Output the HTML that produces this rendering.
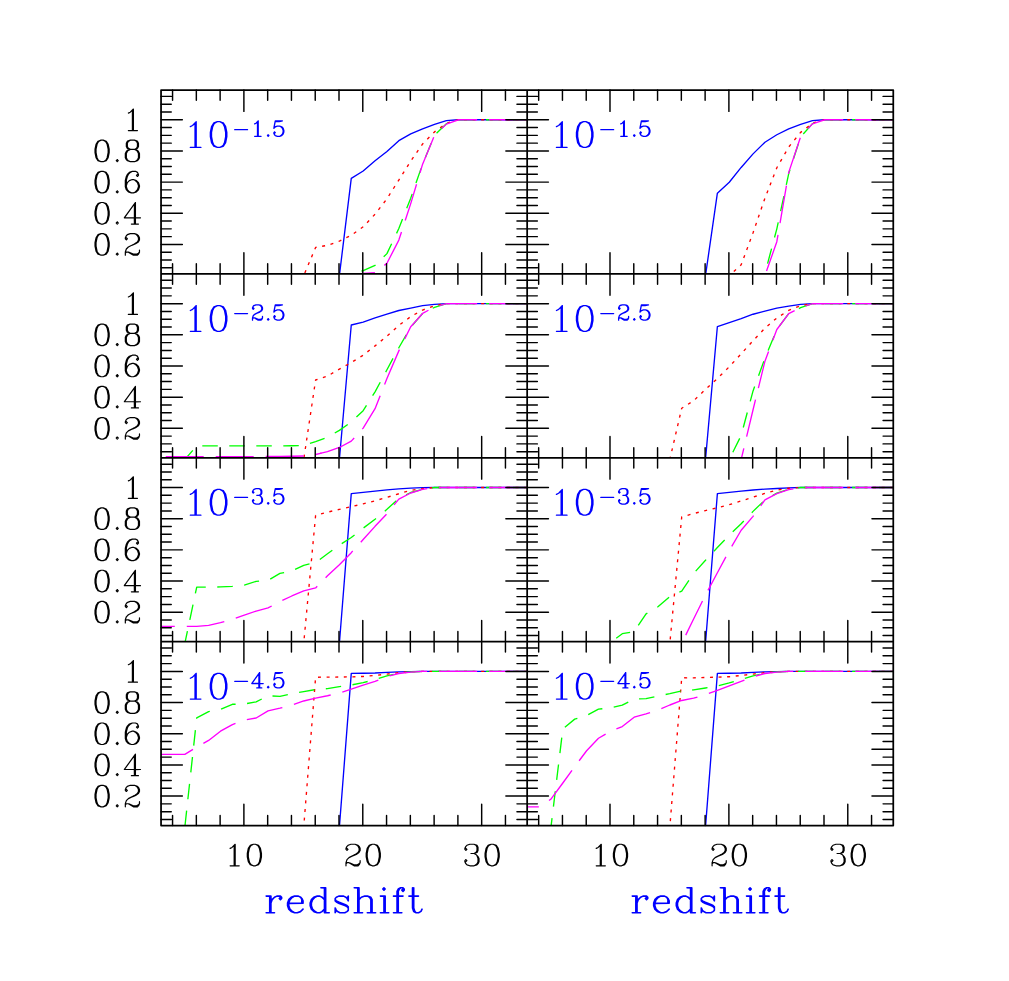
<!DOCTYPE html>
<html><head><meta charset="utf-8"><title>chart</title>
<style>html,body{margin:0;padding:0;background:#fff;font-family:"Liberation Sans",sans-serif}svg{display:block}</style>
</head><body>
<svg width="1009" height="981" viewBox="0 0 1009 981">
<rect width="1009" height="981" fill="#fff"/>
<defs>
<clipPath id="c00"><rect x="161.05" y="90.08" width="366.11" height="183.88"/></clipPath>
<clipPath id="c01"><rect x="161.05" y="273.96" width="366.11" height="183.88"/></clipPath>
<clipPath id="c02"><rect x="161.05" y="457.84" width="366.11" height="183.88"/></clipPath>
<clipPath id="c03"><rect x="161.05" y="641.72" width="366.11" height="183.88"/></clipPath>
<clipPath id="c10"><rect x="527.16" y="90.08" width="366.11" height="183.88"/></clipPath>
<clipPath id="c11"><rect x="527.16" y="273.96" width="366.11" height="183.88"/></clipPath>
<clipPath id="c12"><rect x="527.16" y="457.84" width="366.11" height="183.88"/></clipPath>
<clipPath id="c13"><rect x="527.16" y="641.72" width="366.11" height="183.88"/></clipPath>
<path id="g0" d="M8.2 -0.3L8.4 -0.3ZM11.9 -0.4L12.1 -0.4ZM7.9 -0.4L8.2 -0.4ZM12.1 -0.5L12.4 -0.5ZM12.4 -20.5L14 -20L15.9 -17.2L17 -12.2L17 -8.8L16 -4L14.1 -1.1L12.6 -0.5L12.3 -0.6L12.9 -0.9L14.1 -2.1L15 -3.9L16 -8.8L16 -12.2L15 -17L14 -19L12.9 -20.1L12.4 -20.3ZM12.1 -20.5L12.4 -20.5ZM7.9 -20.6L7.9 -20.4L7 -20L6 -19L4.9 -16.7L4 -12.2L4 -8.8L5 -3.9L5.9 -2.1L7 -1L7.9 -0.6L7.9 -0.4L6 -1L4.1 -3.8L3 -8.8L3 -12.2L4 -17L6 -20ZM11.9 -20.6L12.1 -20.6ZM7.9 -20.6L8.2 -20.6ZM8.2 -20.7L8.4 -20.7ZM9 -21L11.1 -21L12.9 -20.1L14 -19L15.1 -16.7L16 -12.2L16 -8.8L15 -3.9L14.1 -2.1L12.9 -0.9L11.1 0L9 0L7 -1L5.9 -2.1L5 -3.9L4 -8.8L4 -12.2L5 -17L6 -19L7 -20ZM8.9 -21L6 -20L4 -17L3 -12.2L3 -8.8L4 -4L5.9 -1.1L8.9 0L11.1 0L14 -1L16 -4L17 -8.8L17 -12.2L16 -17L14.1 -19.9L11.1 -21Z" vector-effect="non-scaling-stroke"/>
<path id="g1" d="M10.9 -20.9L11 -0.1L10.1 0L10 -20ZM11 -21L7.9 -17.9L6 -17L7.9 -17.9L9.9 -19.9L10 -19.8L10 -0.1L6 0L15 0L11 -0.1Z" vector-effect="non-scaling-stroke"/>
<path id="g2" d="M16.8 -2.6L16.1 -1.1L15 0L11 0L6.9 -2.5L7.1 -2.6L10.9 -1L14.1 -1L15.9 -1.9L16.7 -2.7ZM6.7 -2.6L6.9 -2.6ZM16.7 -2.7L16.9 -2.7ZM6.5 -2.7L6.7 -2.7ZM9.5 -9.7L9.7 -9.7ZM9.7 -9.8L9.9 -9.8ZM9.9 -9.9L10.2 -9.9ZM10.1 -10L10.4 -10ZM14.8 -20.1L16 -19L17 -17L17 -14.9L15.9 -12.9L13.2 -11.1L10.4 -10L10.4 -10.2L11.9 -10.9L14.9 -12.9L16 -14.9L16 -17L15 -19L13.9 -20.1L13.3 -20.4L13.6 -20.5ZM13.1 -20.5L13.4 -20.5ZM12.9 -20.6L13.1 -20.6ZM5.2 -20.1L4 -19L3 -17L3 -16L4 -15L5 -16L4 -17L5 -16L4 -15L3 -16L3 -17L4 -19L5 -20L7.9 -21L12.1 -21L13.9 -20.1L15 -19L16 -17L16 -14.9L14.9 -12.9L11.9 -10.9L6 -8L4 -6L3 -3.1L3 0L3 -2L4 -3L6 -3L11 0L15 0L16.1 -1.1L17 -2.9L17 -5L17 -3L15.9 -1.9L14.1 -1L10.9 -1L6.1 -3L4 -3L3.1 -2.1L3 -2.2L3 -3.1L4 -6L6 -8L8.4 -9.2L13.2 -11.1L15.9 -12.9L17 -14.9L17 -17L16 -19L14.8 -20.1L12.1 -21L7.9 -21Z" vector-effect="non-scaling-stroke"/>
<path id="g3" d="M12.9 -0.4L13.1 -0.4ZM13.1 -0.5L13.4 -0.5ZM15.2 -9.8L16 -9L17 -7L17 -3.9L16.1 -2.1L15 -1L13.4 -0.5L13.4 -0.7L13.9 -0.9L15.1 -2.1L16 -3.9L16 -7.1L15.1 -9.6ZM12.9 -12.4L13.1 -12.4ZM13.1 -12.5L13.4 -12.5ZM13.4 -20.5L14.8 -20.1L16 -18L16 -14.9L15.1 -13.1L13.6 -12.5L13.3 -12.6L14.1 -13.1L15 -14.9L15 -18L14 -20L13.4 -20.3ZM13.1 -20.5L13.4 -20.5ZM12.9 -20.6L13.1 -20.6ZM7.9 -21L5 -20L4 -19L3 -17L3 -16L4 -15L5 -16L4 -17L5 -16L4 -15L3 -16L3 -17L4 -19L5 -20L7.9 -21L12.1 -21L14 -20L15 -18L15 -14.9L14.1 -13.1L12.1 -12L9 -12L12.1 -12L13.9 -11.1L15 -10L16 -7.1L16 -3.9L15.1 -2.1L13.9 -0.9L12.1 0L7.9 0L5.2 -0.9L3.9 -2.1L3 -3.9L3 -5L4 -6L5 -5L4 -4L5 -5L4 -6L3 -5L3 -3.9L3.9 -2.1L5 -1L7.9 0L12.1 0L14.8 -0.9L16.1 -2.1L17 -3.9L17 -7L16 -9L13.9 -11.1L12.1 -12L15 -13L16 -14.9L16 -18L15 -20L12.1 -21Z" vector-effect="non-scaling-stroke"/>
<path id="g4" d="M12.1 -6L13 -5.9L12.9 0L12 -0.1ZM12.9 -20.8L13 -6.1L12 -6.1L12 -19L12 -6.1L2.2 -6L2.1 -6.2ZM13 -21L2 -6L11.9 -6L12 -0.1L9 0L16 0L13 -0.1L13 -5.9L18 -6L13 -6.1Z" vector-effect="non-scaling-stroke"/>
<path id="g5" d="M11.9 -0.4L12.1 -0.4ZM12.1 -0.5L12.4 -0.5ZM3 -11.2L3.2 -11.2ZM12.4 -13.5L14 -13L16 -11L17 -8.1L17 -5.9L16 -3L14 -1L12.6 -0.5L12.3 -0.6L12.9 -0.9L15.1 -3.2L16 -5.9L16 -8.1L15 -11L12.9 -13.1L12.4 -13.3ZM12.1 -13.5L12.4 -13.5ZM11.9 -13.6L12.1 -13.6ZM5 -21L3 -11L5.2 -13.1L7.9 -14L11.1 -14L12.9 -13.1L15 -11L16 -8.1L16 -5.9L15 -3L12.9 -0.9L11.1 0L7.9 0L5.2 -0.9L3.9 -2.1L3 -3.9L3 -5L4 -6L5 -5L4 -4L5 -5L4 -6L3 -5L3 -3.9L3.9 -2.1L5 -1L7.9 0L11.1 0L13.8 -0.9L16 -3L17 -5.9L17 -8.1L16 -11L14 -13L11.1 -14L7.9 -14L5 -13L3.2 -11.2L3.1 -11.7L4.9 -20.7L5.1 -21L14.2 -21L14.2 -20.8L10.2 -20L5 -20L10.2 -20L15 -21Z" vector-effect="non-scaling-stroke"/>
<path id="g6" d="M8.2 -0.3L8.4 -0.3ZM11.9 -0.4L12.1 -0.4ZM7.9 -0.4L8.2 -0.4ZM12.1 -0.5L12.4 -0.5ZM12.4 -12.5L14 -12L16 -10L17 -7.1L17 -5.9L16 -3L14 -1L12.6 -0.5L12.3 -0.6L12.9 -0.9L15 -3L16 -5.9L16 -7.1L15 -10L12.9 -12.1L12.4 -12.3ZM12.1 -12.5L12.4 -12.5ZM11.9 -12.6L12.1 -12.6ZM9.9 -13L11.1 -13L12.9 -12.1L15 -10L16 -7.1L16 -5.9L15 -3L12.9 -0.9L11.1 0L9 0L7 -1L5 -3L4 -5.9L4 -7.1L5 -10L7 -12ZM8.9 -20.6L8.9 -20.4L8 -20L6 -18L5 -16L4 -12.1L4 -5.9L5 -3L7 -1L8 -0.5L7.7 -0.4L6 -1L3.9 -3.2L3 -5.9L3 -12.1L4 -16L5 -18L7 -20ZM8.9 -20.6L9.2 -20.6ZM9.2 -20.7L9.4 -20.7ZM13.1 -21L15 -20L16 -18L16 -17L15 -16L14 -17L15 -18L14 -17L15 -16L16 -17L16 -18L14.9 -20.1L13.1 -21L9.9 -21L7 -20L5 -18L4 -16L3 -12.1L3 -5.9L3.9 -3.2L6 -1L8.9 0L11.1 0L13.8 -0.9L16 -3L17 -5.9L17 -7.1L16.1 -9.8L14 -12L11.1 -13L9.9 -13L7 -12L5 -10L4.1 -7.4L4 -12.1L5 -16L6 -18L8 -20L10 -21Z" vector-effect="non-scaling-stroke"/>
<path id="g7" d="M14.9 -13.9L15.1 -13.9ZM15 -14L15.2 -14ZM15.1 -14.1L15.3 -14.1ZM15.2 -14.2L15.4 -14.2ZM12.3 -18.3L12.5 -18.3ZM12.1 -18.4L12.3 -18.4ZM4.2 -19.2L4.4 -19.2ZM4.3 -19.3L6 -21L8 -21L12.1 -18.5L11.9 -18.4L8.1 -20L6 -20L4.5 -19.2ZM17 -21L16.1 -19.1L15 -18L13 -18L8 -21L6 -21L4 -19L3.1 -17.2L3 -21L3 -15L3 -17L3.9 -18.8L6 -20L8.1 -20L12.9 -18L15 -18L16.1 -19.1L16.8 -20.6L17 -20.6L17 -17.9L16 -15L11 -10L9.9 -7.8L9 -5.1L9 0L9 -5.1L9.9 -7.8L11 -10L14.9 -13.9L15 -13.8L12.2 -10.3L10.9 -7.8L10 -5.1L10 0L10 -5.1L10.9 -7.8L12 -10L16.1 -15.2L17 -17.9Z" vector-effect="non-scaling-stroke"/>
<path id="g8" d="M7.2 -0.3L7.4 -0.3ZM12.9 -0.4L13.1 -0.4ZM6.9 -0.4L7.2 -0.4ZM13.1 -0.5L13.4 -0.5ZM13.4 -11.5L15 -11L16 -10L17 -8L17 -3.9L16.1 -2.1L15 -1L13.6 -0.5L13.3 -0.6L13.9 -0.9L15.1 -2.1L16 -3.9L16 -8L15 -10L13.9 -11.1L13.4 -11.3ZM13.1 -11.5L13.4 -11.5ZM6.9 -11.6L6.9 -11.4L6 -11L5 -10L4 -8L4 -3.9L4.9 -2.1L6 -1L6.9 -0.6L6.9 -0.4L5 -1L3.9 -2.1L3 -3.9L3 -8L4 -10L5 -11ZM12.9 -11.6L13.1 -11.6ZM6.9 -11.6L7.2 -11.6ZM7.2 -11.7L7.4 -11.7ZM8 -12L12.1 -12L13.9 -11.1L15 -10L16 -8L16 -3.9L15.1 -2.1L13.9 -0.9L12.1 0L8 0L6 -1L4.9 -2.1L4 -3.9L4 -8L5 -10L6 -11ZM7.2 -12.3L7.4 -12.3ZM12.9 -12.4L13.1 -12.4ZM6.9 -12.4L7.2 -12.4ZM13.1 -12.5L13.4 -12.5ZM13.4 -20.5L14.8 -20.1L16 -18L16 -14.9L15.1 -13.1L13.6 -12.5L13.3 -12.6L14.1 -13.1L15 -14.9L15 -18L14 -20L13.4 -20.3ZM13.1 -20.5L13.4 -20.5ZM6.7 -20.6L7 -20.5L6 -20L5 -18L5 -14.9L5.9 -13.1L6.9 -12.6L6.9 -12.4L5 -13L4 -14.9L4 -18L5.2 -20.1ZM12.9 -20.6L13.1 -20.6ZM6.9 -20.6L7.2 -20.6ZM7.2 -20.7L7.4 -20.7ZM5.9 -19.8L8 -21L12.1 -21L13.9 -20.1L15 -18L15 -14.9L14.1 -13.1L12.1 -12L8 -12L6 -13L5 -14.9L5 -18ZM7.9 -21L5 -20L4 -18L4 -14.9L4.9 -13.1L7.9 -12L5 -11L4 -10L3 -8L3 -3.9L3.9 -2.1L5.2 -0.9L7.9 0L12.1 0L15 -1L16.1 -2.1L17 -3.9L17 -8L16 -10L15 -11L12.1 -12L15.1 -13.1L16 -14.9L16 -18L15 -20L12.1 -21Z" vector-effect="non-scaling-stroke"/>
<path id="g9" d="M10.9 -0.4L11.1 -0.4ZM11.1 -0.5L11.4 -0.5ZM8.2 -8.3L8.4 -8.3ZM7.9 -8.4L8.2 -8.4ZM12.6 -20.5L14 -20L16.1 -17.8L17 -15.1L17 -8.8L16.1 -5.2L15.1 -3.1L13 -1L11.4 -0.5L11.4 -0.7L11.9 -0.9L14.1 -3.1L15 -4.9L16 -8.8L16 -15.1L15 -18L12.9 -20.1L12.3 -20.4ZM12.1 -20.5L12.4 -20.5ZM7.9 -20.6L7.9 -20.4L7 -20L5 -18L4 -15.1L4 -13.9L5 -11L7 -9L7.9 -8.6L7.9 -8.4L6 -9L4 -11L3 -13.9L3 -15.1L4 -18L6 -20ZM11.9 -20.6L12.1 -20.6ZM7.9 -20.6L8.2 -20.6ZM8.2 -20.7L8.4 -20.7ZM9 -21L11.1 -21L12.9 -20.1L15 -18L16 -15.1L16 -13.9L15 -11L13 -9L10.1 -8L9 -8L7 -9L5 -11L4 -13.9L4 -15.1L5 -18L7 -20ZM11.1 -21L8.9 -21L6.2 -20.1L4 -18L3 -15.1L3 -13.9L3.9 -11.2L6 -9L8.9 -8L10.1 -8L13 -9L15 -11L15.9 -13.6L16 -8.8L15.1 -5.2L14.1 -3.1L11.9 -0.9L10.1 0L7 0L5 -1L4 -2.9L4 -4L5 -5L6 -4L5 -3L6 -4L5 -5L4 -4L4 -2.9L5 -1L7 0L10.1 0L13 -1L15.1 -3.1L16 -4.9L17 -8.8L17 -15.1L16.1 -17.8L14 -20Z" vector-effect="non-scaling-stroke"/>
<path id="gdot" d="M5 -2L6 -1L5 0L4 -1ZM5 -2L4 -1L5 0L6 -1Z" vector-effect="non-scaling-stroke" fill="currentColor"/>
<path id="gmin" d="M4 -9L22 -9Z" vector-effect="non-scaling-stroke"/>
<path id="gr" d="M5.1 -14L6 -13.9L5.9 0L5 -0.1ZM2 -14L5 -13.9L5 -0.1L2 0L9 0L6 -0.1L6 -8.1L6.9 -10.8L9 -13L11 -14L14 -14L15 -13L15 -12L14 -11L13 -12L14 -13L13 -12L14 -11L15 -12L15 -13L14 -14L11 -14L9 -13L7 -11L6.1 -8.4L6 -14Z" vector-effect="non-scaling-stroke"/>
<path id="ge" d="M8.2 -0.3L8.4 -0.3ZM7.9 -0.4L8.2 -0.4ZM14.3 -12.7L15 -12L16 -10L15.9 -8L15 -8.1L15 -11L14.2 -12.5ZM14.1 -12.7L14.3 -12.7ZM7.7 -13.6L8 -13.5L7 -13L4.9 -10.8L4 -8.1L4 -5.9L5 -3L7 -1L7.9 -0.6L7.9 -0.4L6 -1L4 -3L3 -5.9L3 -8.1L4 -11L6 -13ZM7.9 -13.6L8.2 -13.6ZM8.2 -13.7L8.4 -13.7ZM4 -8.1L5 -11L7 -13L9 -14L12.1 -14L14 -13L15 -11L14.9 -8ZM8.9 -14L6 -13L4 -11L3 -8.1L3 -5.9L4 -3L6 -1L8.9 0L11.1 0L14 -1L16 -3L13.8 -0.9L11.1 0L9 0L7 -1L5 -3L4 -5.9L4 -7.9L16 -8L16 -10L15 -12L13.9 -13.1L12.1 -14Z" vector-effect="non-scaling-stroke"/>
<path id="gd" d="M8.2 -0.3L8.4 -0.3ZM7.9 -0.4L8.2 -0.4ZM7.7 -13.6L8 -13.5L7 -13L4.9 -10.8L4 -8.1L4 -5.9L5 -3L7 -1L7.9 -0.6L7.9 -0.4L6 -1L4 -3L3 -5.9L3 -8.1L4 -11L6 -13ZM7.9 -13.6L8.2 -13.6ZM8.2 -13.7L8.4 -13.7ZM9 -14L11.1 -14L12.9 -13.1L15 -11L15 -3L12.9 -0.9L11.1 0L9 0L7 -1L5 -3L4 -5.9L4 -8.1L5 -11L7 -13ZM15.1 -21L16 -20.9L15.9 0L15 -0.1ZM12 -21L15 -20.9L15 -11.2L14.9 -11.1L12.9 -13.1L11.1 -14L8.9 -14L6.2 -13.1L3.9 -10.8L3 -8.1L3 -5.9L4 -3L6.2 -0.9L8.9 0L11.1 0L12.9 -0.9L14.9 -2.9L15 0L19 0L16 -0.1L16 -21Z" vector-effect="non-scaling-stroke"/>
<path id="gs" d="M3.1 -3.7L4 -2L3.1 -0.2ZM3 -10.8L3.1 -10.9L4 -10L6.4 -8.8L11.1 -7L12.9 -6.1L14 -5L14 -4.2L13.9 -4.1L12.9 -5.1L11.1 -6L6.4 -7.8L4 -9L3 -10ZM13.9 -13.7L13.9 -10.2L13 -11.9ZM6 -14L10.1 -14L11.9 -13.1L13 -12L14 -10L14 -14L13 -12L11.9 -13.1L10.1 -14L6 -14L4 -13L3 -12L3 -10L4 -9L6.4 -7.8L11.1 -6L12.9 -5.1L14 -4L14 -2L12.9 -0.9L11.1 0L7 0L5 -1L3.9 -2.1L3 -4L3 0L4 -1.9L5 -1L7 0L11.1 0L12.9 -0.9L14 -2L14 -5L12.9 -6.1L11.1 -7L6.4 -8.8L4 -10L3 -11L3 -12L4 -13Z" vector-effect="non-scaling-stroke"/>
<path id="gh" d="M14.4 -13.5L15.8 -13.1L17 -11L16.9 0L16 -0.1L16 -11L15 -13L14.4 -13.3ZM14.1 -13.5L14.4 -13.5ZM13.9 -13.6L14.1 -13.6ZM5.1 -21L6 -20.9L5.9 0L5 -0.1ZM2 -21L5 -20.9L5 -0.1L2 0L9 0L6 -0.1L6 -11L8 -13L10.9 -14L13.1 -14L14.9 -13.1L16 -11L16 -0.1L13 0L20 0L17 -0.1L17 -11L16 -13L13.1 -14L10.9 -14L8 -13L6.1 -11.1L6 -21Z" vector-effect="non-scaling-stroke"/>
<path id="gi" d="M5.1 -14L6 -13.9L5.9 0L5 -0.1ZM2 -14L5 -13.9L5 -0.1L2 0L9 0L6 -0.1L6 -14ZM5 -21L6 -20L5 -19L4 -20ZM5 -21L4 -20L5 -19L6 -20Z" vector-effect="non-scaling-stroke"/>
<path id="gf" d="M5.1 -14L6 -13.9L5.9 0L5 -0.1ZM7.5 -20.7L7.6 -20.6L7 -20L6 -18L6 -14.1L5.1 -14L5 -18L5.9 -19.8ZM7.5 -20.7L7.7 -20.7ZM10 -21L11 -20L11 -19L10 -18L9 -19L10 -20L9 -19L10 -18L11 -19L11 -20L10 -21L8 -21L6 -20L5 -18L5 -14.1L2 -14L5 -13.9L5 -0.1L2 0L9 0L6 -0.1L6 -13.9L10 -14L6.1 -14L6 -18L7 -20L8 -21Z" vector-effect="non-scaling-stroke"/>
<path id="gt" d="M7.5 -0.3L7.7 -0.3ZM5.1 -14L6 -13.9L6 -3.9L6.9 -1.2L7.6 -0.4L7.5 -0.3L5.9 -1.2L5 -3.9ZM5 -21L5 -14.1L2 -14L5 -13.9L5 -3.9L6 -1L8 0L10.1 0L12.1 -1.1L13 -3L12.1 -1.1L10.1 0L8 0L6.9 -1.2L6 -3.9L6 -13.9L10 -14L6 -14.1L6 -21L6 -14.1L5 -14.1Z" vector-effect="non-scaling-stroke"/>
</defs>
<g clip-path="url(#c00)" fill="none" stroke-width="1.35" stroke-linejoin="round">
<path d="M527.16 119.77L517.72 119.77L505.83 119.77L493.94 119.77L482.05 119.77L470.16 119.77L458.27 119.77L446.39 120.70L434.50 124.44L422.61 128.81L410.72 133.95L398.83 140.65L386.94 151.56L375.05 160.75L363.16 171.04L351.27 178.36L339.38 275.60" stroke="#0000ff"/>
<path d="M527.16 119.77L517.72 119.77L505.83 119.77L493.94 119.77L482.05 119.77L470.16 119.77L458.27 119.77L446.39 123.35L434.50 131.92L422.61 143.92L410.72 161.22L398.83 180.07L386.94 198.77L375.05 214.20L363.16 226.82L351.27 235.24L339.38 241.16L327.50 245.37L315.61 247.39L303.72 275.60" stroke="#ff0000" stroke-dasharray="3 5.6"/>
<path d="M527.16 119.77L517.72 119.77L505.83 119.77L493.94 119.77L482.05 119.77L470.16 119.77L458.27 119.77L446.39 123.66L434.50 135.35L422.61 164.02L410.72 198.15L398.83 228.54L386.94 253.63L375.05 265.31L363.16 270.61L351.27 273.73L339.38 274.04L327.50 274.35" stroke="#00ff00" stroke-dasharray="15.5 11.5" stroke-dashoffset="1.3"/>
<path d="M527.16 119.77L517.72 119.77L505.83 119.77L493.94 119.77L482.05 119.77L470.16 119.77L458.27 119.77L446.39 124.13L434.50 135.51L422.61 164.18L410.72 203.60L398.83 240.07L386.94 263.29L375.05 272.79L363.16 273.42L351.27 274.35" stroke="#ff00ff" stroke-dasharray="38 12"/>
</g>
<g clip-path="url(#c01)" fill="none" stroke-width="1.35" stroke-linejoin="round">
<path d="M527.16 303.65L517.72 303.65L505.83 303.65L493.94 303.65L482.05 303.65L470.16 303.65L458.27 303.65L446.39 303.65L434.50 304.35L422.61 305.67L410.72 308.17L398.83 310.50L386.94 314.09L375.05 317.98L363.16 322.04L351.27 325.00L339.38 459.48" stroke="#0000ff"/>
<path d="M527.16 303.65L517.72 303.65L505.83 303.65L493.94 303.65L482.05 303.65L470.16 303.65L458.27 303.65L446.39 303.65L434.50 305.67L422.61 310.04L410.72 316.58L398.83 325.46L386.94 336.06L375.05 345.88L363.16 355.23L351.27 362.55L339.38 369.10L327.50 376.11L315.61 380.00L303.72 459.48" stroke="#ff0000" stroke-dasharray="3 5.6"/>
<path d="M527.16 303.65L517.72 303.65L505.83 303.65L493.94 303.65L482.05 303.65L470.16 303.65L458.27 303.65L446.39 303.65L434.50 307.39L422.61 313.31L410.72 327.18L398.83 347.75L386.94 369.72L375.05 391.85L363.16 410.70L351.27 422.08L339.38 430.34L327.50 437.19L315.61 441.56L303.72 445.45L291.83 445.76L279.94 445.92L268.05 445.92L256.16 445.92L244.27 445.92L232.38 445.92L220.50 445.92L208.61 445.92L196.72 445.92L184.83 459.48" stroke="#00ff00" stroke-dasharray="15.5 11.5" stroke-dashoffset="1.3"/>
<path d="M527.16 303.65L517.72 303.65L505.83 303.65L493.94 303.65L482.05 303.65L470.16 303.65L458.27 303.65L446.39 303.65L434.50 306.92L422.61 313.46L410.72 326.71L398.83 350.86L386.94 378.60L375.05 408.68L363.16 428.16L351.27 441.09L339.38 447.48L327.50 451.69L315.61 454.49" stroke="#ff00ff" stroke-dasharray="38 12"/>
<path d="M303.72 456.00L291.83 456.21L279.94 456.36L268.05 456.52L256.16 456.67L244.27 456.67L232.38 456.67L220.50 456.67L208.61 456.67L196.72 456.67L184.83 456.67L172.94 456.67L161.05 456.67" stroke="#ff00ff" stroke-dasharray="38 12"/>
<path d="M315.61 454.49L321.55 453.09" stroke="#ff00ff"/>
</g>
<g clip-path="url(#c02)" fill="none" stroke-width="1.35" stroke-linejoin="round">
<path d="M527.16 487.53L517.72 487.53L505.83 487.53L493.94 487.53L482.05 487.53L470.16 487.53L458.27 487.53L446.39 487.53L434.50 487.53L422.61 487.68L410.72 488.15L398.83 488.93L386.94 489.87L375.05 491.11L363.16 492.36L351.27 493.61L339.38 643.36" stroke="#0000ff"/>
<path d="M527.16 487.53L517.72 487.53L505.83 487.53L493.94 487.53L482.05 487.53L470.16 487.53L458.27 487.53L446.39 487.53L434.50 487.53L422.61 488.62L410.72 490.33L398.83 493.76L386.94 497.34L375.05 500.77L363.16 503.89L351.27 506.69L339.38 509.34L327.50 512.15L315.61 515.42L303.72 643.36" stroke="#ff0000" stroke-dasharray="3 5.6"/>
<path d="M527.16 487.53L517.72 487.53L505.83 487.53L493.94 487.53L482.05 487.53L470.16 487.53L458.27 487.53L446.39 487.53L434.50 487.53L422.61 489.24L410.72 492.51L398.83 498.59L386.94 509.34L375.05 519.32L363.16 528.20L351.27 537.55L339.38 545.18L327.50 553.76L315.61 562.56L303.72 565.29L291.83 570.94L279.94 573.45L268.05 580.32L256.16 581.34L244.27 585.23L232.38 586.32L220.50 586.95L208.61 587.10L196.72 587.10L184.83 643.36" stroke="#00ff00" stroke-dasharray="15.5 11.5" stroke-dashoffset="1.3"/>
<path d="M527.16 487.53L517.72 487.53L505.83 487.53L493.94 487.53L482.05 487.53L470.16 487.53L458.27 487.53L446.39 487.53L434.50 487.53L422.61 489.40L410.72 492.98L398.83 499.06L386.94 513.71L375.05 526.33L363.16 539.57L351.27 552.66L339.38 564.74L327.50 575.73L315.61 587.94L303.72 590.89L291.83 595.99L279.94 601.60L268.05 607.91L256.16 611.05L244.27 615.09L232.38 619.20L220.50 622.71L208.61 625.33L196.72 626.37L184.83 626.37L172.94 626.37L161.05 626.37" stroke="#ff00ff" stroke-dasharray="38 12"/>
</g>
<g clip-path="url(#c03)" fill="none" stroke-width="1.35" stroke-linejoin="round">
<path d="M527.16 671.41L517.72 671.41L505.83 671.41L493.94 671.41L482.05 671.41L470.16 671.41L458.27 671.41L446.39 671.41L434.50 671.41L422.61 671.41L410.72 671.56L398.83 671.88L386.94 672.34L375.05 672.97L363.16 673.28L351.27 673.36L339.38 827.24" stroke="#0000ff"/>
<path d="M527.16 671.41L517.72 671.41L505.83 671.41L493.94 671.41L482.05 671.41L470.16 671.41L458.27 671.41L446.39 671.41L434.50 671.41L422.61 671.41L410.72 671.72L398.83 672.65L386.94 674.06L375.05 675.46L363.16 676.47L351.27 676.86L339.38 677.02L327.50 677.17L315.61 677.22L303.72 827.24" stroke="#ff0000" stroke-dasharray="3 5.6"/>
<path d="M527.16 671.41L517.72 671.41L505.83 671.41L493.94 671.41L482.05 671.41L470.16 671.41L458.27 671.41L446.39 671.41L434.50 671.41L422.61 671.41L410.72 671.88L398.83 673.12L386.94 675.93L375.05 679.51L363.16 682.67L351.27 684.96L339.38 686.59L327.50 688.66L315.61 689.53L303.72 691.60L291.83 693.78L279.94 696.34L268.05 695.87L256.16 701.79L244.27 704.07L232.38 704.29L220.50 709.27L208.61 711.60L196.72 717.91L184.83 827.24" stroke="#00ff00" stroke-dasharray="15.5 11.5" stroke-dashoffset="1.3"/>
<path d="M527.16 671.41L517.72 671.41L505.83 671.41L493.94 671.41L482.05 671.41L470.16 671.41L458.27 671.41L446.39 671.41L434.50 671.41L422.61 671.41L410.72 672.11L398.83 673.50L386.94 676.46L375.05 681.38L363.16 685.06L351.27 689.20L339.38 693.02L327.50 695.75L315.61 698.05L303.72 700.97L291.83 705.11L279.94 708.17L268.05 710.83L256.16 717.97L244.27 720.09L232.38 724.55L220.50 731.20L208.61 740.46L196.72 747.11L184.83 754.40L172.94 754.40L161.05 754.40" stroke="#ff00ff" stroke-dasharray="38 12"/>
</g>
<g clip-path="url(#c10)" fill="none" stroke-width="1.35" stroke-linejoin="round">
<path d="M893.27 119.77L883.83 119.77L871.94 119.77L860.05 119.77L848.16 119.77L836.27 119.77L824.38 119.77L812.50 120.70L800.61 124.44L788.72 128.81L776.83 134.73L764.94 142.21L753.05 153.89L741.16 167.45L729.27 182.26L717.38 193.16L705.50 275.60" stroke="#0000ff"/>
<path d="M893.27 119.77L883.83 119.77L871.94 119.77L860.05 119.77L848.16 119.77L836.27 119.77L824.38 119.77L812.50 123.20L800.61 132.39L788.72 147.04L776.83 167.76L764.94 198.15L753.05 232.74L741.16 264.85L729.27 275.60" stroke="#ff0000" stroke-dasharray="3 5.6"/>
<path d="M893.27 119.77L883.83 119.77L871.94 119.77L860.05 119.77L848.16 119.77L836.27 119.77L824.38 119.77L812.50 123.66L800.61 136.91L788.72 173.53L776.83 228.85L764.94 273.42" stroke="#00ff00" stroke-dasharray="15.5 11.5" stroke-dashoffset="1.3"/>
<path d="M893.27 119.77L883.83 119.77L871.94 119.77L860.05 119.77L848.16 119.77L836.27 119.77L824.38 119.77L812.50 123.82L800.61 136.75L788.72 172.36L776.83 241.69L764.94 275.60" stroke="#ff00ff" stroke-dasharray="38 12"/>
</g>
<g clip-path="url(#c11)" fill="none" stroke-width="1.35" stroke-linejoin="round">
<path d="M893.27 303.65L883.83 303.65L871.94 303.65L860.05 303.65L848.16 303.65L836.27 303.65L824.38 303.65L812.50 303.65L800.61 304.35L788.72 306.14L776.83 308.17L764.94 311.13L753.05 314.24L741.16 318.61L729.27 322.57L717.38 326.55L705.50 459.48" stroke="#0000ff"/>
<path d="M893.27 303.65L883.83 303.65L871.94 303.65L860.05 303.65L848.16 303.65L836.27 303.65L824.38 303.65L812.50 303.65L800.61 305.67L788.72 310.35L776.83 317.98L764.94 328.11L753.05 340.80L741.16 353.82L729.27 366.76L717.38 378.45L705.50 389.35L693.61 400.81L681.72 408.21L669.83 459.48" stroke="#ff0000" stroke-dasharray="3 5.6"/>
<path d="M893.27 303.65L883.83 303.65L871.94 303.65L860.05 303.65L848.16 303.65L836.27 303.65L824.38 303.65L812.50 303.65L800.61 307.70L788.72 313.62L776.83 329.52L764.94 358.19L753.05 390.91L741.16 435.48L729.27 459.48" stroke="#00ff00" stroke-dasharray="15.5 11.5" stroke-dashoffset="1.3"/>
<path d="M893.27 303.65L883.83 303.65L871.94 303.65L860.05 303.65L848.16 303.65L836.27 303.65L824.38 303.65L812.50 303.65L800.61 307.39L788.72 313.62L776.83 329.52L764.94 361.15L753.05 409.77L741.16 459.48" stroke="#ff00ff" stroke-dasharray="38 12"/>
</g>
<g clip-path="url(#c12)" fill="none" stroke-width="1.35" stroke-linejoin="round">
<path d="M893.27 487.53L883.83 487.53L871.94 487.53L860.05 487.53L848.16 487.53L836.27 487.53L824.38 487.53L812.50 487.53L800.61 487.53L788.72 487.84L776.83 488.46L764.94 489.09L753.05 490.02L741.16 491.11L729.27 492.36L717.38 493.61L705.50 643.36" stroke="#0000ff"/>
<path d="M893.27 487.53L883.83 487.53L871.94 487.53L860.05 487.53L848.16 487.53L836.27 487.53L824.38 487.53L812.50 487.53L800.61 487.53L788.72 488.23L776.83 490.02L764.94 493.37L753.05 497.19L741.16 500.93L729.27 504.67L717.38 507.79L705.50 510.59L693.61 513.55L681.72 516.98L669.83 643.36" stroke="#ff0000" stroke-dasharray="3 5.6"/>
<path d="M893.27 487.53L883.83 487.53L871.94 487.53L860.05 487.53L848.16 487.53L836.27 487.53L824.38 487.53L812.50 487.53L800.61 487.53L788.72 489.24L776.83 493.14L764.94 499.92L753.05 511.37L741.16 523.68L729.27 535.21L717.38 547.52L705.50 560.24L693.61 573.42L681.72 591.08L669.83 596.52L657.94 606.74L646.05 613.91L634.16 631.61L622.27 633.70L610.38 642.58" stroke="#00ff00" stroke-dasharray="15.5 11.5" stroke-dashoffset="1.3"/>
<path d="M893.27 487.53L883.83 487.53L871.94 487.53L860.05 487.53L848.16 487.53L836.27 487.53L824.38 487.53L812.50 487.53L800.61 487.53L788.72 489.62L776.83 493.61L764.94 499.92L753.05 516.36L741.16 530.23L729.27 550.64L717.38 572.77L705.50 595.05L693.61 618.97L681.72 643.36" stroke="#ff00ff" stroke-dasharray="38 12"/>
</g>
<g clip-path="url(#c13)" fill="none" stroke-width="1.35" stroke-linejoin="round">
<path d="M893.27 671.41L883.83 671.41L871.94 671.41L860.05 671.41L848.16 671.41L836.27 671.41L824.38 671.41L812.50 671.41L800.61 671.41L788.72 671.41L776.83 671.56L764.94 671.88L753.05 672.34L741.16 672.97L729.27 673.28L717.38 673.36L705.50 827.24" stroke="#0000ff"/>
<path d="M893.27 671.41L883.83 671.41L871.94 671.41L860.05 671.41L848.16 671.41L836.27 671.41L824.38 671.41L812.50 671.41L800.61 671.41L788.72 671.41L776.83 671.72L764.94 672.65L753.05 674.06L741.16 675.46L729.27 676.71L717.38 677.17L705.50 677.49L693.61 677.84L681.72 677.77L669.83 827.24" stroke="#ff0000" stroke-dasharray="3 5.6"/>
<path d="M893.27 671.41L883.83 671.41L871.94 671.41L860.05 671.41L848.16 671.41L836.27 671.41L824.38 671.41L812.50 671.41L800.61 671.41L788.72 671.41L776.83 671.88L764.94 673.12L753.05 675.93L741.16 679.51L729.27 682.94L717.38 685.90L705.50 688.00L693.61 689.86L681.72 690.84L669.83 693.68L657.94 696.08L646.05 698.57L634.16 699.15L622.27 705.14L610.38 707.92L598.49 709.17L586.61 715.48L574.72 719.14L562.83 728.85L550.94 827.24" stroke="#00ff00" stroke-dasharray="15.5 11.5" stroke-dashoffset="1.3"/>
<path d="M893.27 671.41L883.83 671.41L871.94 671.41L860.05 671.41L848.16 671.41L836.27 671.41L824.38 671.41L812.50 671.41L800.61 671.41L788.72 671.41L776.83 672.11L764.94 673.50L753.05 676.71L741.16 681.38L729.27 685.93L717.38 690.40L705.50 694.66L693.61 698.21L681.72 700.47L669.83 705.00L657.94 709.90L646.05 713.95L634.16 717.22L622.27 726.57L610.38 731.34L598.49 738.26L586.61 750.73L574.72 766.67L562.83 782.98L550.94 799.19L539.05 806.82L527.16 806.82" stroke="#ff00ff" stroke-dasharray="38 12"/>
</g>
<path d="M172.56 90.08v10.2M172.56 273.96v-10.2M196.34 90.08v10.2M196.34 273.96v-10.2M220.12 90.08v10.2M220.12 273.96v-10.2M243.89 90.08v21.3M243.89 273.96v-21.3M267.67 90.08v10.2M267.67 273.96v-10.2M291.45 90.08v10.2M291.45 273.96v-10.2M315.23 90.08v10.2M315.23 273.96v-10.2M339.00 90.08v10.2M339.00 273.96v-10.2M362.78 90.08v21.3M362.78 273.96v-21.3M386.56 90.08v10.2M386.56 273.96v-10.2M410.34 90.08v10.2M410.34 273.96v-10.2M434.12 90.08v10.2M434.12 273.96v-10.2M457.89 90.08v10.2M457.89 273.96v-10.2M481.67 90.08v21.3M481.67 273.96v-21.3M505.45 90.08v10.2M505.45 273.96v-10.2M161.05 267.81h10.2M527.16 267.81h-10.2M161.05 260.01h10.2M527.16 260.01h-10.2M161.05 252.22h10.2M527.16 252.22h-10.2M161.05 244.43h21.3M527.16 244.43h-21.3M161.05 236.64h10.2M527.16 236.64h-10.2M161.05 228.85h10.2M527.16 228.85h-10.2M161.05 221.06h10.2M527.16 221.06h-10.2M161.05 213.27h21.3M527.16 213.27h-21.3M161.05 205.47h10.2M527.16 205.47h-10.2M161.05 197.68h10.2M527.16 197.68h-10.2M161.05 189.89h10.2M527.16 189.89h-10.2M161.05 182.10h21.3M527.16 182.10h-21.3M161.05 174.31h10.2M527.16 174.31h-10.2M161.05 166.52h10.2M527.16 166.52h-10.2M161.05 158.73h10.2M527.16 158.73h-10.2M161.05 150.93h21.3M527.16 150.93h-21.3M161.05 143.14h10.2M527.16 143.14h-10.2M161.05 135.35h10.2M527.16 135.35h-10.2M161.05 127.56h10.2M527.16 127.56h-10.2M161.05 119.77h21.3M527.16 119.77h-21.3M161.05 111.98h10.2M527.16 111.98h-10.2M161.05 104.18h10.2M527.16 104.18h-10.2M161.05 96.39h10.2M527.16 96.39h-10.2M172.56 273.96v10.2M172.56 457.84v-10.2M196.34 273.96v10.2M196.34 457.84v-10.2M220.12 273.96v10.2M220.12 457.84v-10.2M243.89 273.96v21.3M243.89 457.84v-21.3M267.67 273.96v10.2M267.67 457.84v-10.2M291.45 273.96v10.2M291.45 457.84v-10.2M315.23 273.96v10.2M315.23 457.84v-10.2M339.00 273.96v10.2M339.00 457.84v-10.2M362.78 273.96v21.3M362.78 457.84v-21.3M386.56 273.96v10.2M386.56 457.84v-10.2M410.34 273.96v10.2M410.34 457.84v-10.2M434.12 273.96v10.2M434.12 457.84v-10.2M457.89 273.96v10.2M457.89 457.84v-10.2M481.67 273.96v21.3M481.67 457.84v-21.3M505.45 273.96v10.2M505.45 457.84v-10.2M161.05 451.69h10.2M527.16 451.69h-10.2M161.05 443.89h10.2M527.16 443.89h-10.2M161.05 436.10h10.2M527.16 436.10h-10.2M161.05 428.31h21.3M527.16 428.31h-21.3M161.05 420.52h10.2M527.16 420.52h-10.2M161.05 412.73h10.2M527.16 412.73h-10.2M161.05 404.94h10.2M527.16 404.94h-10.2M161.05 397.15h21.3M527.16 397.15h-21.3M161.05 389.35h10.2M527.16 389.35h-10.2M161.05 381.56h10.2M527.16 381.56h-10.2M161.05 373.77h10.2M527.16 373.77h-10.2M161.05 365.98h21.3M527.16 365.98h-21.3M161.05 358.19h10.2M527.16 358.19h-10.2M161.05 350.40h10.2M527.16 350.40h-10.2M161.05 342.61h10.2M527.16 342.61h-10.2M161.05 334.81h21.3M527.16 334.81h-21.3M161.05 327.02h10.2M527.16 327.02h-10.2M161.05 319.23h10.2M527.16 319.23h-10.2M161.05 311.44h10.2M527.16 311.44h-10.2M161.05 303.65h21.3M527.16 303.65h-21.3M161.05 295.86h10.2M527.16 295.86h-10.2M161.05 288.06h10.2M527.16 288.06h-10.2M161.05 280.27h10.2M527.16 280.27h-10.2M172.56 457.84v10.2M172.56 641.72v-10.2M196.34 457.84v10.2M196.34 641.72v-10.2M220.12 457.84v10.2M220.12 641.72v-10.2M243.89 457.84v21.3M243.89 641.72v-21.3M267.67 457.84v10.2M267.67 641.72v-10.2M291.45 457.84v10.2M291.45 641.72v-10.2M315.23 457.84v10.2M315.23 641.72v-10.2M339.00 457.84v10.2M339.00 641.72v-10.2M362.78 457.84v21.3M362.78 641.72v-21.3M386.56 457.84v10.2M386.56 641.72v-10.2M410.34 457.84v10.2M410.34 641.72v-10.2M434.12 457.84v10.2M434.12 641.72v-10.2M457.89 457.84v10.2M457.89 641.72v-10.2M481.67 457.84v21.3M481.67 641.72v-21.3M505.45 457.84v10.2M505.45 641.72v-10.2M161.05 635.57h10.2M527.16 635.57h-10.2M161.05 627.77h10.2M527.16 627.77h-10.2M161.05 619.98h10.2M527.16 619.98h-10.2M161.05 612.19h21.3M527.16 612.19h-21.3M161.05 604.40h10.2M527.16 604.40h-10.2M161.05 596.61h10.2M527.16 596.61h-10.2M161.05 588.82h10.2M527.16 588.82h-10.2M161.05 581.03h21.3M527.16 581.03h-21.3M161.05 573.23h10.2M527.16 573.23h-10.2M161.05 565.44h10.2M527.16 565.44h-10.2M161.05 557.65h10.2M527.16 557.65h-10.2M161.05 549.86h21.3M527.16 549.86h-21.3M161.05 542.07h10.2M527.16 542.07h-10.2M161.05 534.28h10.2M527.16 534.28h-10.2M161.05 526.49h10.2M527.16 526.49h-10.2M161.05 518.69h21.3M527.16 518.69h-21.3M161.05 510.90h10.2M527.16 510.90h-10.2M161.05 503.11h10.2M527.16 503.11h-10.2M161.05 495.32h10.2M527.16 495.32h-10.2M161.05 487.53h21.3M527.16 487.53h-21.3M161.05 479.74h10.2M527.16 479.74h-10.2M161.05 471.94h10.2M527.16 471.94h-10.2M161.05 464.15h10.2M527.16 464.15h-10.2M172.56 641.72v10.2M172.56 825.60v-10.2M196.34 641.72v10.2M196.34 825.60v-10.2M220.12 641.72v10.2M220.12 825.60v-10.2M243.89 641.72v21.3M243.89 825.60v-21.3M267.67 641.72v10.2M267.67 825.60v-10.2M291.45 641.72v10.2M291.45 825.60v-10.2M315.23 641.72v10.2M315.23 825.60v-10.2M339.00 641.72v10.2M339.00 825.60v-10.2M362.78 641.72v21.3M362.78 825.60v-21.3M386.56 641.72v10.2M386.56 825.60v-10.2M410.34 641.72v10.2M410.34 825.60v-10.2M434.12 641.72v10.2M434.12 825.60v-10.2M457.89 641.72v10.2M457.89 825.60v-10.2M481.67 641.72v21.3M481.67 825.60v-21.3M505.45 641.72v10.2M505.45 825.60v-10.2M161.05 819.45h10.2M527.16 819.45h-10.2M161.05 811.65h10.2M527.16 811.65h-10.2M161.05 803.86h10.2M527.16 803.86h-10.2M161.05 796.07h21.3M527.16 796.07h-21.3M161.05 788.28h10.2M527.16 788.28h-10.2M161.05 780.49h10.2M527.16 780.49h-10.2M161.05 772.70h10.2M527.16 772.70h-10.2M161.05 764.91h21.3M527.16 764.91h-21.3M161.05 757.11h10.2M527.16 757.11h-10.2M161.05 749.32h10.2M527.16 749.32h-10.2M161.05 741.53h10.2M527.16 741.53h-10.2M161.05 733.74h21.3M527.16 733.74h-21.3M161.05 725.95h10.2M527.16 725.95h-10.2M161.05 718.16h10.2M527.16 718.16h-10.2M161.05 710.37h10.2M527.16 710.37h-10.2M161.05 702.57h21.3M527.16 702.57h-21.3M161.05 694.78h10.2M527.16 694.78h-10.2M161.05 686.99h10.2M527.16 686.99h-10.2M161.05 679.20h10.2M527.16 679.20h-10.2M161.05 671.41h21.3M527.16 671.41h-21.3M161.05 663.62h10.2M527.16 663.62h-10.2M161.05 655.82h10.2M527.16 655.82h-10.2M161.05 648.03h10.2M527.16 648.03h-10.2M538.67 90.08v10.2M538.67 273.96v-10.2M562.45 90.08v10.2M562.45 273.96v-10.2M586.22 90.08v10.2M586.22 273.96v-10.2M610.00 90.08v21.3M610.00 273.96v-21.3M633.78 90.08v10.2M633.78 273.96v-10.2M657.56 90.08v10.2M657.56 273.96v-10.2M681.34 90.08v10.2M681.34 273.96v-10.2M705.12 90.08v10.2M705.12 273.96v-10.2M728.89 90.08v21.3M728.89 273.96v-21.3M752.67 90.08v10.2M752.67 273.96v-10.2M776.45 90.08v10.2M776.45 273.96v-10.2M800.23 90.08v10.2M800.23 273.96v-10.2M824.00 90.08v10.2M824.00 273.96v-10.2M847.78 90.08v21.3M847.78 273.96v-21.3M871.56 90.08v10.2M871.56 273.96v-10.2M527.16 267.81h10.2M893.27 267.81h-10.2M527.16 260.01h10.2M893.27 260.01h-10.2M527.16 252.22h10.2M893.27 252.22h-10.2M527.16 244.43h21.3M893.27 244.43h-21.3M527.16 236.64h10.2M893.27 236.64h-10.2M527.16 228.85h10.2M893.27 228.85h-10.2M527.16 221.06h10.2M893.27 221.06h-10.2M527.16 213.27h21.3M893.27 213.27h-21.3M527.16 205.47h10.2M893.27 205.47h-10.2M527.16 197.68h10.2M893.27 197.68h-10.2M527.16 189.89h10.2M893.27 189.89h-10.2M527.16 182.10h21.3M893.27 182.10h-21.3M527.16 174.31h10.2M893.27 174.31h-10.2M527.16 166.52h10.2M893.27 166.52h-10.2M527.16 158.73h10.2M893.27 158.73h-10.2M527.16 150.93h21.3M893.27 150.93h-21.3M527.16 143.14h10.2M893.27 143.14h-10.2M527.16 135.35h10.2M893.27 135.35h-10.2M527.16 127.56h10.2M893.27 127.56h-10.2M527.16 119.77h21.3M893.27 119.77h-21.3M527.16 111.98h10.2M893.27 111.98h-10.2M527.16 104.18h10.2M893.27 104.18h-10.2M527.16 96.39h10.2M893.27 96.39h-10.2M538.67 273.96v10.2M538.67 457.84v-10.2M562.45 273.96v10.2M562.45 457.84v-10.2M586.22 273.96v10.2M586.22 457.84v-10.2M610.00 273.96v21.3M610.00 457.84v-21.3M633.78 273.96v10.2M633.78 457.84v-10.2M657.56 273.96v10.2M657.56 457.84v-10.2M681.34 273.96v10.2M681.34 457.84v-10.2M705.12 273.96v10.2M705.12 457.84v-10.2M728.89 273.96v21.3M728.89 457.84v-21.3M752.67 273.96v10.2M752.67 457.84v-10.2M776.45 273.96v10.2M776.45 457.84v-10.2M800.23 273.96v10.2M800.23 457.84v-10.2M824.00 273.96v10.2M824.00 457.84v-10.2M847.78 273.96v21.3M847.78 457.84v-21.3M871.56 273.96v10.2M871.56 457.84v-10.2M527.16 451.69h10.2M893.27 451.69h-10.2M527.16 443.89h10.2M893.27 443.89h-10.2M527.16 436.10h10.2M893.27 436.10h-10.2M527.16 428.31h21.3M893.27 428.31h-21.3M527.16 420.52h10.2M893.27 420.52h-10.2M527.16 412.73h10.2M893.27 412.73h-10.2M527.16 404.94h10.2M893.27 404.94h-10.2M527.16 397.15h21.3M893.27 397.15h-21.3M527.16 389.35h10.2M893.27 389.35h-10.2M527.16 381.56h10.2M893.27 381.56h-10.2M527.16 373.77h10.2M893.27 373.77h-10.2M527.16 365.98h21.3M893.27 365.98h-21.3M527.16 358.19h10.2M893.27 358.19h-10.2M527.16 350.40h10.2M893.27 350.40h-10.2M527.16 342.61h10.2M893.27 342.61h-10.2M527.16 334.81h21.3M893.27 334.81h-21.3M527.16 327.02h10.2M893.27 327.02h-10.2M527.16 319.23h10.2M893.27 319.23h-10.2M527.16 311.44h10.2M893.27 311.44h-10.2M527.16 303.65h21.3M893.27 303.65h-21.3M527.16 295.86h10.2M893.27 295.86h-10.2M527.16 288.06h10.2M893.27 288.06h-10.2M527.16 280.27h10.2M893.27 280.27h-10.2M538.67 457.84v10.2M538.67 641.72v-10.2M562.45 457.84v10.2M562.45 641.72v-10.2M586.22 457.84v10.2M586.22 641.72v-10.2M610.00 457.84v21.3M610.00 641.72v-21.3M633.78 457.84v10.2M633.78 641.72v-10.2M657.56 457.84v10.2M657.56 641.72v-10.2M681.34 457.84v10.2M681.34 641.72v-10.2M705.12 457.84v10.2M705.12 641.72v-10.2M728.89 457.84v21.3M728.89 641.72v-21.3M752.67 457.84v10.2M752.67 641.72v-10.2M776.45 457.84v10.2M776.45 641.72v-10.2M800.23 457.84v10.2M800.23 641.72v-10.2M824.00 457.84v10.2M824.00 641.72v-10.2M847.78 457.84v21.3M847.78 641.72v-21.3M871.56 457.84v10.2M871.56 641.72v-10.2M527.16 635.57h10.2M893.27 635.57h-10.2M527.16 627.77h10.2M893.27 627.77h-10.2M527.16 619.98h10.2M893.27 619.98h-10.2M527.16 612.19h21.3M893.27 612.19h-21.3M527.16 604.40h10.2M893.27 604.40h-10.2M527.16 596.61h10.2M893.27 596.61h-10.2M527.16 588.82h10.2M893.27 588.82h-10.2M527.16 581.03h21.3M893.27 581.03h-21.3M527.16 573.23h10.2M893.27 573.23h-10.2M527.16 565.44h10.2M893.27 565.44h-10.2M527.16 557.65h10.2M893.27 557.65h-10.2M527.16 549.86h21.3M893.27 549.86h-21.3M527.16 542.07h10.2M893.27 542.07h-10.2M527.16 534.28h10.2M893.27 534.28h-10.2M527.16 526.49h10.2M893.27 526.49h-10.2M527.16 518.69h21.3M893.27 518.69h-21.3M527.16 510.90h10.2M893.27 510.90h-10.2M527.16 503.11h10.2M893.27 503.11h-10.2M527.16 495.32h10.2M893.27 495.32h-10.2M527.16 487.53h21.3M893.27 487.53h-21.3M527.16 479.74h10.2M893.27 479.74h-10.2M527.16 471.94h10.2M893.27 471.94h-10.2M527.16 464.15h10.2M893.27 464.15h-10.2M538.67 641.72v10.2M538.67 825.60v-10.2M562.45 641.72v10.2M562.45 825.60v-10.2M586.22 641.72v10.2M586.22 825.60v-10.2M610.00 641.72v21.3M610.00 825.60v-21.3M633.78 641.72v10.2M633.78 825.60v-10.2M657.56 641.72v10.2M657.56 825.60v-10.2M681.34 641.72v10.2M681.34 825.60v-10.2M705.12 641.72v10.2M705.12 825.60v-10.2M728.89 641.72v21.3M728.89 825.60v-21.3M752.67 641.72v10.2M752.67 825.60v-10.2M776.45 641.72v10.2M776.45 825.60v-10.2M800.23 641.72v10.2M800.23 825.60v-10.2M824.00 641.72v10.2M824.00 825.60v-10.2M847.78 641.72v21.3M847.78 825.60v-21.3M871.56 641.72v10.2M871.56 825.60v-10.2M527.16 819.45h10.2M893.27 819.45h-10.2M527.16 811.65h10.2M893.27 811.65h-10.2M527.16 803.86h10.2M893.27 803.86h-10.2M527.16 796.07h21.3M893.27 796.07h-21.3M527.16 788.28h10.2M893.27 788.28h-10.2M527.16 780.49h10.2M893.27 780.49h-10.2M527.16 772.70h10.2M893.27 772.70h-10.2M527.16 764.91h21.3M893.27 764.91h-21.3M527.16 757.11h10.2M893.27 757.11h-10.2M527.16 749.32h21.3M893.27 749.32h-21.3M527.16 741.53h10.2M893.27 741.53h-10.2M527.16 733.74h21.3M893.27 733.74h-21.3M527.16 725.95h10.2M893.27 725.95h-10.2M527.16 718.16h10.2M893.27 718.16h-10.2M527.16 710.37h10.2M893.27 710.37h-10.2M527.16 702.57h21.3M893.27 702.57h-21.3M527.16 694.78h10.2M893.27 694.78h-10.2M527.16 686.99h10.2M893.27 686.99h-10.2M527.16 679.20h10.2M893.27 679.20h-10.2M527.16 671.41h21.3M893.27 671.41h-21.3M527.16 663.62h10.2M893.27 663.62h-10.2M527.16 655.82h10.2M893.27 655.82h-10.2M527.16 648.03h10.2M893.27 648.03h-10.2" fill="none" stroke="#000" stroke-width="1.45" stroke-linecap="round"/>
<path d="M161.05 90.08H527.16V273.96H161.05ZM161.05 273.96H527.16V457.84H161.05ZM161.05 457.84H527.16V641.72H161.05ZM161.05 641.72H527.16V825.60H161.05ZM527.16 90.08H893.27V273.96H527.16ZM527.16 273.96H893.27V457.84H527.16ZM527.16 457.84H893.27V641.72H527.16ZM527.16 641.72H893.27V825.60H527.16Z" fill="none" stroke="#000" stroke-width="1.75" stroke-linejoin="round"/>
<g transform="translate(122.30 130.53) scale(1.01 1.025)" fill="none" color="#000" stroke="#000" stroke-width="1.2" stroke-linejoin="round" stroke-linecap="round"><use href="#g1" x="0"/></g>
<g transform="translate(92.00 161.70) scale(1.01 1.025)" fill="none" color="#000" stroke="#000" stroke-width="1.2" stroke-linejoin="round" stroke-linecap="round"><use href="#g0" x="0"/><use href="#gdot" x="20"/><use href="#g8" x="30"/></g>
<g transform="translate(92.00 192.86) scale(1.01 1.025)" fill="none" color="#000" stroke="#000" stroke-width="1.2" stroke-linejoin="round" stroke-linecap="round"><use href="#g0" x="0"/><use href="#gdot" x="20"/><use href="#g6" x="30"/></g>
<g transform="translate(92.00 224.03) scale(1.01 1.025)" fill="none" color="#000" stroke="#000" stroke-width="1.2" stroke-linejoin="round" stroke-linecap="round"><use href="#g0" x="0"/><use href="#gdot" x="20"/><use href="#g4" x="30"/></g>
<g transform="translate(92.00 255.19) scale(1.01 1.025)" fill="none" color="#000" stroke="#000" stroke-width="1.2" stroke-linejoin="round" stroke-linecap="round"><use href="#g0" x="0"/><use href="#gdot" x="20"/><use href="#g2" x="30"/></g>
<g transform="translate(122.30 314.41) scale(1.01 1.025)" fill="none" color="#000" stroke="#000" stroke-width="1.2" stroke-linejoin="round" stroke-linecap="round"><use href="#g1" x="0"/></g>
<g transform="translate(92.00 345.58) scale(1.01 1.025)" fill="none" color="#000" stroke="#000" stroke-width="1.2" stroke-linejoin="round" stroke-linecap="round"><use href="#g0" x="0"/><use href="#gdot" x="20"/><use href="#g8" x="30"/></g>
<g transform="translate(92.00 376.74) scale(1.01 1.025)" fill="none" color="#000" stroke="#000" stroke-width="1.2" stroke-linejoin="round" stroke-linecap="round"><use href="#g0" x="0"/><use href="#gdot" x="20"/><use href="#g6" x="30"/></g>
<g transform="translate(92.00 407.91) scale(1.01 1.025)" fill="none" color="#000" stroke="#000" stroke-width="1.2" stroke-linejoin="round" stroke-linecap="round"><use href="#g0" x="0"/><use href="#gdot" x="20"/><use href="#g4" x="30"/></g>
<g transform="translate(92.00 439.07) scale(1.01 1.025)" fill="none" color="#000" stroke="#000" stroke-width="1.2" stroke-linejoin="round" stroke-linecap="round"><use href="#g0" x="0"/><use href="#gdot" x="20"/><use href="#g2" x="30"/></g>
<g transform="translate(122.30 498.29) scale(1.01 1.025)" fill="none" color="#000" stroke="#000" stroke-width="1.2" stroke-linejoin="round" stroke-linecap="round"><use href="#g1" x="0"/></g>
<g transform="translate(92.00 529.46) scale(1.01 1.025)" fill="none" color="#000" stroke="#000" stroke-width="1.2" stroke-linejoin="round" stroke-linecap="round"><use href="#g0" x="0"/><use href="#gdot" x="20"/><use href="#g8" x="30"/></g>
<g transform="translate(92.00 560.62) scale(1.01 1.025)" fill="none" color="#000" stroke="#000" stroke-width="1.2" stroke-linejoin="round" stroke-linecap="round"><use href="#g0" x="0"/><use href="#gdot" x="20"/><use href="#g6" x="30"/></g>
<g transform="translate(92.00 591.79) scale(1.01 1.025)" fill="none" color="#000" stroke="#000" stroke-width="1.2" stroke-linejoin="round" stroke-linecap="round"><use href="#g0" x="0"/><use href="#gdot" x="20"/><use href="#g4" x="30"/></g>
<g transform="translate(92.00 622.95) scale(1.01 1.025)" fill="none" color="#000" stroke="#000" stroke-width="1.2" stroke-linejoin="round" stroke-linecap="round"><use href="#g0" x="0"/><use href="#gdot" x="20"/><use href="#g2" x="30"/></g>
<g transform="translate(122.30 682.17) scale(1.01 1.025)" fill="none" color="#000" stroke="#000" stroke-width="1.2" stroke-linejoin="round" stroke-linecap="round"><use href="#g1" x="0"/></g>
<g transform="translate(92.00 713.34) scale(1.01 1.025)" fill="none" color="#000" stroke="#000" stroke-width="1.2" stroke-linejoin="round" stroke-linecap="round"><use href="#g0" x="0"/><use href="#gdot" x="20"/><use href="#g8" x="30"/></g>
<g transform="translate(92.00 744.50) scale(1.01 1.025)" fill="none" color="#000" stroke="#000" stroke-width="1.2" stroke-linejoin="round" stroke-linecap="round"><use href="#g0" x="0"/><use href="#gdot" x="20"/><use href="#g6" x="30"/></g>
<g transform="translate(92.00 775.67) scale(1.01 1.025)" fill="none" color="#000" stroke="#000" stroke-width="1.2" stroke-linejoin="round" stroke-linecap="round"><use href="#g0" x="0"/><use href="#gdot" x="20"/><use href="#g4" x="30"/></g>
<g transform="translate(92.00 806.83) scale(1.01 1.025)" fill="none" color="#000" stroke="#000" stroke-width="1.2" stroke-linejoin="round" stroke-linecap="round"><use href="#g0" x="0"/><use href="#gdot" x="20"/><use href="#g2" x="30"/></g>
<g transform="translate(224.07 865.80) scale(1.01 1.025)" fill="none" color="#000" stroke="#000" stroke-width="1.2" stroke-linejoin="round" stroke-linecap="round"><use href="#g1" x="0"/><use href="#g0" x="20"/></g>
<g transform="translate(342.96 865.80) scale(1.01 1.025)" fill="none" color="#000" stroke="#000" stroke-width="1.2" stroke-linejoin="round" stroke-linecap="round"><use href="#g2" x="0"/><use href="#g0" x="20"/></g>
<g transform="translate(461.85 865.80) scale(1.01 1.025)" fill="none" color="#000" stroke="#000" stroke-width="1.2" stroke-linejoin="round" stroke-linecap="round"><use href="#g3" x="0"/><use href="#g0" x="20"/></g>
<g transform="translate(263.78 912.70) scale(1.19 1.185)" fill="none" color="#0000ff" stroke="#0000ff" stroke-width="1.6" stroke-linejoin="round" stroke-linecap="round"><use href="#gr" x="0"/><use href="#ge" x="17"/><use href="#gd" x="36"/><use href="#gs" x="57"/><use href="#gh" x="74"/><use href="#gi" x="96"/><use href="#gf" x="107"/><use href="#gt" x="120"/></g>
<g transform="translate(590.18 865.80) scale(1.01 1.025)" fill="none" color="#000" stroke="#000" stroke-width="1.2" stroke-linejoin="round" stroke-linecap="round"><use href="#g1" x="0"/><use href="#g0" x="20"/></g>
<g transform="translate(709.07 865.80) scale(1.01 1.025)" fill="none" color="#000" stroke="#000" stroke-width="1.2" stroke-linejoin="round" stroke-linecap="round"><use href="#g2" x="0"/><use href="#g0" x="20"/></g>
<g transform="translate(827.96 865.80) scale(1.01 1.025)" fill="none" color="#000" stroke="#000" stroke-width="1.2" stroke-linejoin="round" stroke-linecap="round"><use href="#g3" x="0"/><use href="#g0" x="20"/></g>
<g transform="translate(629.89 912.70) scale(1.19 1.185)" fill="none" color="#0000ff" stroke="#0000ff" stroke-width="1.6" stroke-linejoin="round" stroke-linecap="round"><use href="#gr" x="0"/><use href="#ge" x="17"/><use href="#gd" x="36"/><use href="#gs" x="57"/><use href="#gh" x="74"/><use href="#gi" x="96"/><use href="#gf" x="107"/><use href="#gt" x="120"/></g>
<g transform="translate(183.25 147.43) scale(1.178 1.225)" fill="none" color="#0000ff" stroke="#0000ff" stroke-width="1.3" stroke-linejoin="round" stroke-linecap="round"><use href="#g1" x="0"/><use href="#g0" x="20"/></g>
<g transform="translate(231.87 136.28) scale(0.712 0.73)" fill="none" color="#0000ff" stroke="#0000ff" stroke-width="1.3" stroke-linejoin="round" stroke-linecap="round"><use href="#gmin" x="0"/><use href="#g1" x="26"/><use href="#gdot" x="46"/><use href="#g5" x="56"/></g>
<g transform="translate(183.25 331.31) scale(1.178 1.225)" fill="none" color="#0000ff" stroke="#0000ff" stroke-width="1.3" stroke-linejoin="round" stroke-linecap="round"><use href="#g1" x="0"/><use href="#g0" x="20"/></g>
<g transform="translate(231.87 320.16) scale(0.712 0.73)" fill="none" color="#0000ff" stroke="#0000ff" stroke-width="1.3" stroke-linejoin="round" stroke-linecap="round"><use href="#gmin" x="0"/><use href="#g2" x="26"/><use href="#gdot" x="46"/><use href="#g5" x="56"/></g>
<g transform="translate(183.25 515.19) scale(1.178 1.225)" fill="none" color="#0000ff" stroke="#0000ff" stroke-width="1.3" stroke-linejoin="round" stroke-linecap="round"><use href="#g1" x="0"/><use href="#g0" x="20"/></g>
<g transform="translate(231.87 504.04) scale(0.712 0.73)" fill="none" color="#0000ff" stroke="#0000ff" stroke-width="1.3" stroke-linejoin="round" stroke-linecap="round"><use href="#gmin" x="0"/><use href="#g3" x="26"/><use href="#gdot" x="46"/><use href="#g5" x="56"/></g>
<g transform="translate(183.25 699.07) scale(1.178 1.225)" fill="none" color="#0000ff" stroke="#0000ff" stroke-width="1.3" stroke-linejoin="round" stroke-linecap="round"><use href="#g1" x="0"/><use href="#g0" x="20"/></g>
<g transform="translate(231.87 687.92) scale(0.712 0.73)" fill="none" color="#0000ff" stroke="#0000ff" stroke-width="1.3" stroke-linejoin="round" stroke-linecap="round"><use href="#gmin" x="0"/><use href="#g4" x="26"/><use href="#gdot" x="46"/><use href="#g5" x="56"/></g>
<g transform="translate(549.36 147.43) scale(1.178 1.225)" fill="none" color="#0000ff" stroke="#0000ff" stroke-width="1.3" stroke-linejoin="round" stroke-linecap="round"><use href="#g1" x="0"/><use href="#g0" x="20"/></g>
<g transform="translate(597.98 136.28) scale(0.712 0.73)" fill="none" color="#0000ff" stroke="#0000ff" stroke-width="1.3" stroke-linejoin="round" stroke-linecap="round"><use href="#gmin" x="0"/><use href="#g1" x="26"/><use href="#gdot" x="46"/><use href="#g5" x="56"/></g>
<g transform="translate(549.36 331.31) scale(1.178 1.225)" fill="none" color="#0000ff" stroke="#0000ff" stroke-width="1.3" stroke-linejoin="round" stroke-linecap="round"><use href="#g1" x="0"/><use href="#g0" x="20"/></g>
<g transform="translate(597.98 320.16) scale(0.712 0.73)" fill="none" color="#0000ff" stroke="#0000ff" stroke-width="1.3" stroke-linejoin="round" stroke-linecap="round"><use href="#gmin" x="0"/><use href="#g2" x="26"/><use href="#gdot" x="46"/><use href="#g5" x="56"/></g>
<g transform="translate(549.36 515.19) scale(1.178 1.225)" fill="none" color="#0000ff" stroke="#0000ff" stroke-width="1.3" stroke-linejoin="round" stroke-linecap="round"><use href="#g1" x="0"/><use href="#g0" x="20"/></g>
<g transform="translate(597.98 504.04) scale(0.712 0.73)" fill="none" color="#0000ff" stroke="#0000ff" stroke-width="1.3" stroke-linejoin="round" stroke-linecap="round"><use href="#gmin" x="0"/><use href="#g3" x="26"/><use href="#gdot" x="46"/><use href="#g5" x="56"/></g>
<g transform="translate(549.36 699.07) scale(1.178 1.225)" fill="none" color="#0000ff" stroke="#0000ff" stroke-width="1.3" stroke-linejoin="round" stroke-linecap="round"><use href="#g1" x="0"/><use href="#g0" x="20"/></g>
<g transform="translate(597.98 687.92) scale(0.712 0.73)" fill="none" color="#0000ff" stroke="#0000ff" stroke-width="1.3" stroke-linejoin="round" stroke-linecap="round"><use href="#gmin" x="0"/><use href="#g4" x="26"/><use href="#gdot" x="46"/><use href="#g5" x="56"/></g>
</svg>
</body></html>
